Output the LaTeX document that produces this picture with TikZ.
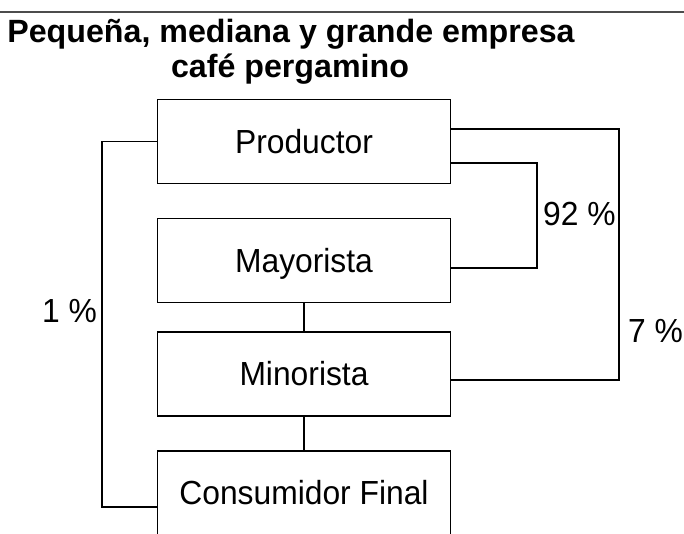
\documentclass[tikz,border=0pt]{standalone}
\usepackage{fontspec}
\setmainfont{Liberation Sans}
\newcommand\tallertext[1]{\scalebox{1}[1.05]{#1}}
\begin{document}
\begin{tikzpicture}[x=1pt,y=-1pt,
  boxnode/.style={draw, line width=1.3pt, rectangle, minimum width=293pt, minimum height=84pt, inner sep=0pt,
    font=\fontsize{31.8}{36}\selectfont, text height=23.9pt, text depth=0pt},
  titletext/.style={font=\fontsize{32.2}{36}\selectfont\bfseries, anchor=base, inner sep=0pt},
  pcttext/.style={font=\fontsize{31.8}{36}\selectfont, anchor=base west, inner sep=0pt},
  conn/.style={line width=1.3pt}]
\clip (0,0) rectangle (684,533);
\draw[gray!60!black, line width=1.5pt] (0,12) -- (684,12);
\node[titletext] (t1) at (291,42) {Pequeña, mediana y grande empresa};
\node[titletext] (t2) at (290,77) {café pergamino};
\node[boxnode] (prod) at (304,141.5) {\tallertext{Productor}};
\node[boxnode] (may) at (304,260.5) {\tallertext{Mayorista}};
\node[boxnode] (min) at (304,374) {\tallertext{Minorista}};
\node[boxnode] (cons) at (304,493) {\tallertext{Consumidor Final}};
\coordinate (lc) at (102,507);
\coordinate (a92) at (537,163);
\coordinate (b92) at (537,268);
\coordinate (a7) at (619,129);
\coordinate (b7) at (619,380);
\draw[conn] (prod.west) -| (lc) -- (lc -| cons.west);
\draw[conn] (a92 -| prod.east) -- (a92) -- (b92) -- (b92 -| may.east);
\draw[conn] (a7 -| prod.east) -- (a7) -- (b7) -- (b7 -| min.east);
\draw[conn] (may.south) -- (min.north);
\draw[conn] (min.south) -- (cons.north);
\node[pcttext] (p92) at (543,225) {\tallertext{92 \%}};
\node[pcttext] (p7) at (628,342) {\tallertext{7 \%}};
\node[pcttext] (p1) at (42,322) {\tallertext{1 \%}};
\end{tikzpicture}
\end{document}
